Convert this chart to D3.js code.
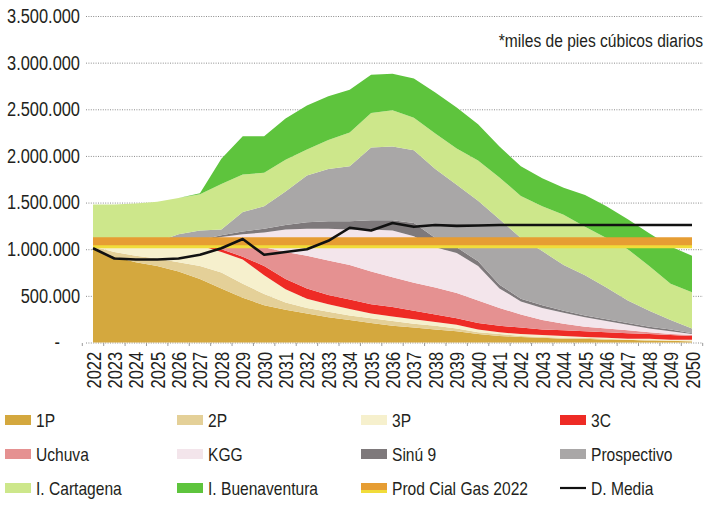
<!DOCTYPE html>
<html><head><meta charset="utf-8">
<script src="https://cdn.jsdelivr.net/npm/d3@7"></script>
<style>
html,body{margin:0;padding:0;background:#fff;}
svg{display:block;}
text{font-family:"Liberation Sans","Arial",sans-serif;fill:#231f20;}
</style></head><body>
<svg id="chart" width="717" height="505"></svg>
<script>
// ---- data (thousands of "miles de pies cúbicos diarios") ----
const years = ["2022","2023","2024","2025","2026","2027","2028","2029","2030","2031","2032","2033","2034","2035","2036","2037","2038","2039","2040","2041","2042","2043","2044","2045","2046","2047","2048","2049","2050"];
const s1P          = [1000,920,860,820,760,680,580,480,400,350,310,270,240,210,180,160,140,120,90,70,60,50,40,40,30,30,20,20,10];
const s2P          = [30,50,70,80,100,140,170,150,120,80,60,60,50,50,50,40,40,30,20,20,10,10,10,10,10,0,10,0,10];
const s3P          = [20,80,120,150,190,220,220,260,200,140,100,80,70,50,50,50,40,40,30,20,20,20,20,10,10,10,10,10,10];
const s3C          = [0,0,0,0,0,10,30,30,100,110,110,100,100,100,100,90,80,70,70,70,70,60,60,60,60,60,50,50,40];
const sUchuva      = [0,0,0,0,0,10,50,120,200,290,350,370,370,350,320,300,290,270,240,190,140,100,70,50,40,30,20,10,10];
const sKGG         = [0,0,0,0,10,20,80,120,160,240,290,340,380,450,500,500,430,430,370,210,140,130,120,100,80,60,40,30,10];
const sSinu9       = [0,0,0,0,10,20,20,30,40,50,70,80,90,100,110,140,100,60,50,40,30,30,20,20,20,20,20,20,10];
const sProspectivo = [0,0,0,30,90,100,60,210,240,360,500,560,590,780,790,780,740,670,650,700,650,580,490,430,340,240,170,100,50];
const sCartagena   = [430,430,440,430,390,390,490,400,360,340,280,310,360,370,390,350,380,390,430,450,450,480,540,520,530,550,480,390,390];
const sBuenaventura= [0,0,0,0,0,10,270,410,390,440,470,470,460,410,390,420,440,440,390,330,320,300,290,340,340,320,350,400,390];
const prodCial2022 = [1080,1080,1080,1080,1080,1080,1080,1080,1080,1080,1080,1080,1080,1080,1080,1080,1080,1080,1080,1080,1080,1080,1080,1080,1080,1080,1080,1080,1080];
const dMedia       = [1010,900,890,890,900,940,1010,1110,940,970,1000,1090,1230,1200,1280,1240,1260,1250,1255,1260,1260,1260,1260,1260,1260,1260,1260,1260,1260];
const yTicks = [0,500,1000,1500,2000,2500,3000,3500];

const seriesNames = ["1P","2P","3P","3C","Uchuva","KGG","Sinú 9","Prospectivo","I. Cartagena","I. Buenaventura"];
const seriesValues = [s1P,s2P,s3P,s3C,sUchuva,sKGG,sSinu9,sProspectivo,sCartagena,sBuenaventura];
const colors = {
  "1P":"#d4a83e","2P":"#e4d098","3P":"#f6f0cd","3C":"#ee2b25","Uchuva":"#e59191",
  "KGG":"#f3e5eb","Sinú 9":"#7e797b","Prospectivo":"#a9a7a7","I. Cartagena":"#cde78b","I. Buenaventura":"#5ec43d"
};

// condensed look: narrow every text to ~82% of its natural width
function condense(sel, f){
  sel.each(function(){
    const w = this.getComputedTextLength();
    if (w > 0) d3.select(this).attr("textLength", (w*f).toFixed(2)).attr("lengthAdjust","spacingAndGlyphs");
  });
}

// ---- build table ----
const table = years.map((yr,i)=>{
  const row = {year:yr};
  seriesNames.forEach((n,k)=>row[n]=seriesValues[k][i]);
  return row;
});

const svg = d3.select("#chart");
const x = d3.scalePoint().domain(years).range([93,692]);
const y = d3.scaleLinear().domain([0,3500]).range([342.5,16]);
const step = x.step();

// ---- y axis with dotted gridlines ----
const loc = d3.formatLocale({decimal:",",thousands:".",grouping:[3],currency:["$",""]});
const fmt = loc.format(",");
const yAxis = d3.axisLeft(y).tickValues(yTicks).tickSize(-617).tickPadding(6)
  .tickFormat(d => d===0 ? "-" : fmt(d*1000));
const gy = svg.append("g").attr("transform","translate(86,0)").call(yAxis);
gy.select(".domain").remove();
gy.selectAll(".tick line").attr("stroke","#8c8c8c").attr("stroke-width",1).attr("stroke-dasharray","1,1.4");
gy.selectAll(".tick text").style("font-size","20px").attr("fill","#231f20").attr("font-family",null);
gy.selectAll(".tick").filter(d=>d===0).select("text").attr("x",-26);
condense(gy.selectAll(".tick text"), 0.82);

// ---- stacked areas ----
const stack = d3.stack().keys(seriesNames)(table);
const area = d3.area().x(d=>x(d.data.year)).y0(d=>y(d[0])).y1(d=>y(d[1]));
svg.append("g").selectAll("path").data(stack).join("path")
  .attr("d",area).attr("fill",d=>colors[d.key]);

// ---- x axis ----
const gx = svg.append("g").attr("transform","translate(0,343)")
  .call(d3.axisBottom(x).tickSize(0).tickPadding(0));
gx.select(".domain").remove();
gx.selectAll(".tick text").attr("transform","rotate(-90)").attr("x",-9).attr("y",0)
  .attr("dy","0.35em").style("text-anchor","end").style("font-size","20px").attr("fill","#231f20").attr("font-family",null);
condense(gx.selectAll(".tick text"), 0.82);
// small tick marks between categories
const bounds = years.map(v=>x(v)-step/2).concat([x(years[years.length-1])+step/2]);
svg.append("g").selectAll("line").data(bounds).join("line")
  .attr("x1",d=>d).attr("x2",d=>d).attr("y1",343).attr("y2",346)
  .attr("stroke","#9a9a9a").attr("stroke-width",1);

// ---- Prod Cial Gas 2022 band ----
const line = d3.line().x((d,i)=>x(years[i])).y(d=>y(d));
svg.append("path").datum(prodCial2022).attr("d",line).attr("fill","none")
  .attr("stroke","#f1dc3a").attr("stroke-width",10).attr("transform","translate(0,1.5)");
svg.append("path").datum(prodCial2022).attr("d",line).attr("fill","none")
  .attr("stroke","#e69d33").attr("stroke-width",8).attr("transform","translate(0,-0.5)");

// ---- D. Media ----
svg.append("path").datum(dMedia).attr("d",line).attr("fill","none")
  .attr("stroke","#111").attr("stroke-width",2.6).attr("stroke-linejoin","round");

// ---- note (right-aligned at x=703, horizontally condensed via transform) ----
svg.append("g").attr("transform","translate(703,47) scale(0.82,1)")
  .append("text").attr("x",0).attr("y",0).attr("text-anchor","end")
  .style("font-size","19px").text("*miles de pies cúbicos diarios");

// ---- legend ----
const legendItems = [
  {n:"1P"},{n:"2P"},{n:"3P"},{n:"3C"},
  {n:"Uchuva"},{n:"KGG"},{n:"Sinú 9"},{n:"Prospectivo"},
  {n:"I. Cartagena"},{n:"I. Buenaventura"},{n:"Prod Cial Gas 2022",band:true},{n:"D. Media",line:true}
];
const colX = [5,177,361,560];
const rowY = [420,454,488];
const lg = svg.append("g").selectAll("g").data(legendItems).join("g")
  .attr("transform",(d,i)=>`translate(${colX[i%4]},${rowY[Math.floor(i/4)]})`);
lg.each(function(d){
  const g = d3.select(this);
  if(d.line){
    g.append("line").attr("x1",0).attr("x2",26).attr("y1",0).attr("y2",0).attr("stroke","#111").attr("stroke-width",2.2);
  } else if(d.band){
    g.append("rect").attr("x",0).attr("y",-5).attr("width",26).attr("height",10).attr("fill","#f1dc3a");
    g.append("rect").attr("x",0).attr("y",-5).attr("width",26).attr("height",7).attr("fill","#e69d33");
  } else {
    g.append("rect").attr("x",0).attr("y",-5).attr("width",26).attr("height",10).attr("fill",colors[d.n]);
  }
  g.append("text").attr("x",31).attr("y",0).attr("dy","0.35em").style("font-size","19px").text(d.n);
});
condense(lg.selectAll("text"), 0.82);
</script>
</body></html>
